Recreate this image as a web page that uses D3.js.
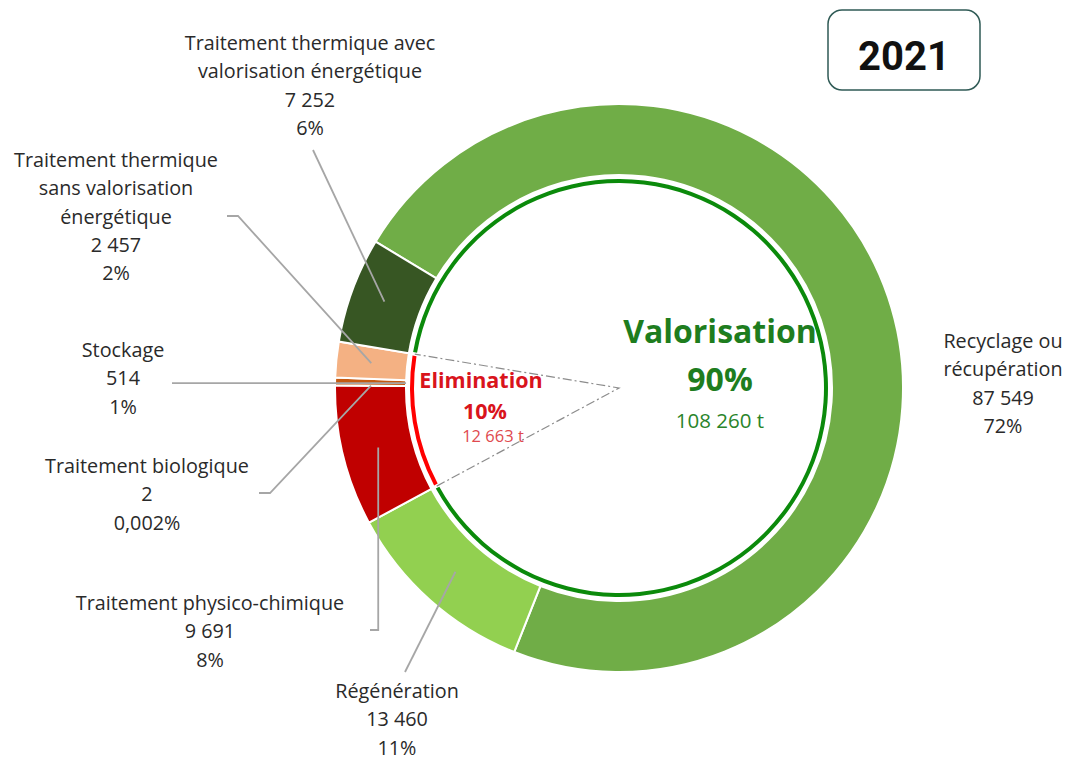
<!DOCTYPE html>
<html>
<head>
<meta charset="utf-8">
<style>
  body { margin: 0; background: #fff; }
  #chart { width: 1068px; height: 760px; display: block; }
  .lbl { font-family: "Open Sans", Lato, sans-serif; font-size: 19.8px; fill: #2a2a2a; text-anchor: middle; }
  .leader { fill: none; stroke: #a6a6a6; stroke-width: 1.8px; }
</style>
<script src="https://d3js.org/d3.v7.min.js"></script>
</head>
<body>
<svg id="chart"></svg>
<script>
// data (tonnes)
const categories = [
  "Recyclage ou récupération",
  "Régénération",
  "Traitement physico-chimique",
  "Traitement biologique",
  "Stockage",
  "Traitement thermique sans valorisation énergétique",
  "Traitement thermique avec valorisation énergétique"
];
const values = [87549, 13460, 9691, 2, 514, 2457, 7252];
const percentLabels = ["72%", "11%", "8%", "0,002%", "1%", "2%", "6%"];
const nameLines = [
  ["Recyclage ou", "récupération"],
  ["Régénération"],
  ["Traitement physico-chimique"],
  ["Traitement biologique"],
  ["Stockage"],
  ["Traitement thermique", "sans valorisation", "énergétique"],
  ["Traitement thermique avec", "valorisation énergétique"]
];
const groups = ["Valorisation", "Elimination"];
const groupValues = [108260, 12663];
const groupPercent = ["90%", "10%"];
// slice indexes of each group, in drawing order
const groupMembers = [[6, 0, 1], [2, 3, 4, 5]];
const year = "2021";

const colors = ["#70ad47", "#92d050", "#c00000", "#c00000", "#c55a11", "#f4b183", "#375623"];

const fr = d3.formatLocale({decimal: ",", thousands: " ", grouping: [3]});
const fmt = fr.format(",d");

const svg = d3.select("#chart");
const cx = 619, cy = 388, R = 284, r0 = 213;
const g = svg.append("g").attr("transform", `translate(${cx},${cy})`);

const startA = -59 * Math.PI / 180;
const pie = d3.pie().sort(null).startAngle(startA).endAngle(startA + 2 * Math.PI);
const arcs = pie(values);
const arc = d3.arc().innerRadius(r0).outerRadius(R);

g.selectAll("path.slice")
  .data(arcs)
  .enter()
  .append("path")
  .attr("class", "slice")
  .attr("d", arc)
  .attr("fill", (d, i) => colors[i])
  .attr("stroke", "#fff")
  .attr("stroke-width", 2);

// thin inner rings for the two groups
const groupArcs = groupMembers.map(m => {
  let s = arcs[m[0]].startAngle, e = arcs[m[m.length - 1]].endAngle;
  if (e < s) s -= 2 * Math.PI;
  return {startAngle: s, endAngle: e};
});
const ringColors = ["#0b8a0b", "#ff0000"];
const ring = d3.arc().innerRadius(205).outerRadius(209).padAngle(0.012);
g.selectAll("path.ring")
  .data(groupArcs)
  .enter()
  .append("path")
  .attr("class", "ring")
  .attr("d", ring)
  .attr("fill", (d, i) => ringColors[i]);

// dash-dot wedge for the elimination share
const ea = groupArcs[1];
const wedgeR = 207;
const pt = (a, rr) => [Math.sin(a) * rr, -Math.cos(a) * rr];
g.append("path")
  .attr("d", d3.line()([pt(ea.startAngle, wedgeR), [0, 0], pt(ea.endAngle, wedgeR)]))
  .attr("fill", "none")
  .attr("stroke", "#8c8c8c")
  .attr("stroke-width", 1.2)
  .attr("stroke-dasharray", "9,3,2,3");

// centre texts
const gText = g.append("g").attr("font-family", "'Open Sans', Lato, sans-serif").attr("text-anchor", "middle");
gText.append("text").attr("x", 101).attr("y", -45).attr("font-size", 32).attr("font-weight", "bold").attr("fill", "#1e7d1e").text(groups[0]);
gText.append("text").attr("x", 101).attr("y", 3).attr("font-size", 32).attr("font-weight", "bold").attr("fill", "#1e7d1e").text(groupPercent[0]);
gText.append("text").attr("x", 101).attr("y", 40).attr("font-size", 20.5).attr("fill", "#2a842a").text(fmt(groupValues[0]) + " t");
gText.append("text").attr("x", -138).attr("y", 0).attr("font-size", 21.5).attr("font-weight", "bold").attr("fill", "#d9141c").text(groups[1]);
gText.append("text").attr("x", -134).attr("y", 31).attr("font-size", 21.5).attr("font-weight", "bold").attr("fill", "#d9141c").text(groupPercent[1]);
gText.append("text").attr("x", -126).attr("y", 54).attr("font-size", 16.5).attr("fill", "#e04a4f").text(fmt(groupValues[1]) + " t");

// outside labels: [centre x, first baseline]
const labelPos = [[1003, 348], [397, 698], [210, 610], [147, 473], [123, 357], [116, 167], [310, 50]];
const lineH = 28.3;
const lab = svg.append("g");
categories.forEach((c, i) => {
  const lines = nameLines[i].concat([fmt(values[i]), percentLabels[i]]);
  const t = lab.append("text").attr("class", "lbl");
  lines.forEach((s, j) => {
    t.append("tspan").attr("x", labelPos[i][0]).attr("y", labelPos[i][1] + j * lineH).text(s);
  });
});

// leader lines
const cent = (i, rr) => {
  const a = (arcs[i].startAngle + arcs[i].endAngle) / 2;
  const p = pt(a, rr);
  return [cx + p[0], cy + p[1]];
};
const leaders = [];
let p;
p = cent(6, 250); leaders.push([[313, 150], p]);
p = cent(5, 249); leaders.push([[227, 216], [238, 216], p]);
p = cent(4, 213); leaders.push([[172, p[1]], p]);
p = cent(3, 248); leaders.push([[259, 493], [270, 493], p]);
p = cent(2, 248); leaders.push([[370, 630], [p[0], 630], p]);
p = cent(1, 246); leaders.push([[405, 672], p]);
svg.append("g").selectAll("path")
  .data(leaders)
  .enter()
  .append("path")
  .attr("class", "leader")
  .attr("d", d => d3.line()(d));

// year badge
svg.append("rect").attr("x", 828).attr("y", 10).attr("width", 152).attr("height", 80).attr("rx", 14)
  .attr("fill", "#fff").attr("stroke", "#2f5a55").attr("stroke-width", 1.5);
svg.append("text").attr("x", 904).attr("y", 70).attr("text-anchor", "middle")
  .attr("font-family", "Roboto, 'DejaVu Sans', sans-serif").attr("font-weight", "bold").attr("font-size", 40)
  .attr("fill", "#111").text(year);
</script>
</body>
</html>
